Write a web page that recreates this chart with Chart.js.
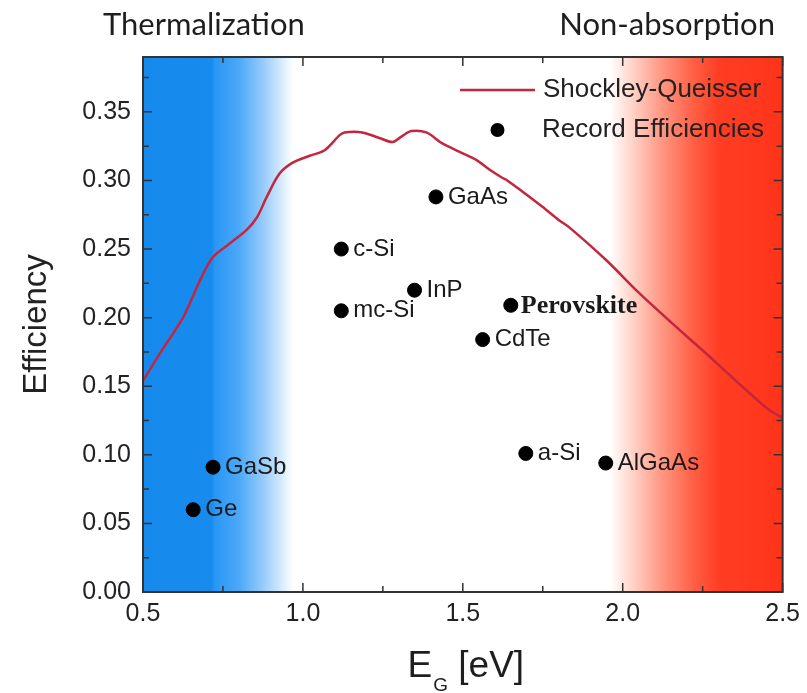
<!DOCTYPE html>
<html>
<head>
<meta charset="utf-8">
<script src="https://cdn.jsdelivr.net/npm/chart.js@4/dist/chart.umd.min.js"></script>
<style>
  html, body { margin: 0; padding: 0; background: #ffffff; }
  #wrap { width: 807px; height: 693px; }
</style>
</head>
<body>
<div id="wrap"><canvas id="c" width="807" height="693"></canvas></div>
<script>
// ---- data ----
const sqEnergy = [0.50, 0.553, 0.625, 0.678, 0.718, 0.771, 0.824, 0.856, 0.887, 0.927, 0.968, 1.021, 1.068, 1.115, 1.13, 1.186, 1.239, 1.280, 1.308, 1.339, 1.386, 1.436, 1.498, 1.542, 1.583, 1.623, 1.639, 1.686, 1.748, 1.801, 1.832, 1.948, 2.051, 2.154, 2.260, 2.363, 2.456, 2.50];
const sqEfficiency = [0.154, 0.174, 0.200, 0.227, 0.244, 0.254, 0.264, 0.273, 0.288, 0.305, 0.313, 0.318, 0.322, 0.333, 0.335, 0.335, 0.331, 0.328, 0.332, 0.336, 0.335, 0.327, 0.320, 0.315, 0.308, 0.302, 0.300, 0.292, 0.281, 0.271, 0.266, 0.242, 0.218, 0.196, 0.174, 0.152, 0.133, 0.127];

const materials = ["Ge", "GaSb", "c-Si", "mc-Si", "InP", "GaAs", "Perovskite", "CdTe", "a-Si", "AlGaAs"];
const recordEnergy = [0.657, 0.719, 1.120, 1.120, 1.349, 1.416, 1.650, 1.562, 1.697, 1.947];
const recordEfficiency = [0.060, 0.091, 0.250, 0.205, 0.220, 0.288, 0.209, 0.184, 0.101, 0.094];

const xTickValues = [0.5, 1.0, 1.5, 2.0, 2.5];
const yTickValues = [0.00, 0.05, 0.10, 0.15, 0.20, 0.25, 0.30, 0.35];
const legendLabels = ["Shockley-Queisser", "Record Efficiencies"];
const regionLabels = ["Thermalization", "Non-absorption"];
const xTitleParts = ["E", "G", " [eV]"];
const yTitle = "Efficiency";

// ---- helpers ----
const sqPoints = sqEnergy.map((e, i) => ({x: e, y: sqEfficiency[i]}));
const recPoints = recordEnergy.map((e, i) => ({x: e, y: recordEfficiency[i]}));

const SANS = "'Liberation Sans', Arial, Helvetica, sans-serif";

const decorPlugin = {
  id: 'decor',
  beforeDatasetsDraw(chart) {
    const {ctx, chartArea: a, scales: {x}} = chart;
    const w = a.right - a.left;
    const f = v => (x.getPixelForValue(v) - a.left) / w;
    const g = ctx.createLinearGradient(a.left, 0, a.right, 0);
    const stops = [
      [0.50, 'rgb(22,137,236)'], [0.715, 'rgb(24,140,238)'], [0.725, 'rgb(42,151,245)'],
      [0.80, 'rgb(75,168,248)'], [0.88, 'rgb(155,205,251)'], [0.97, 'rgb(255,255,255)'],
      [1.96, 'rgb(255,255,255)'], [2.02, 'rgb(255,218,208)'], [2.12, 'rgb(255,152,132)'],
      [2.22, 'rgb(255,96,70)'], [2.30, 'rgb(255,62,36)'], [2.50, 'rgb(255,52,26)']
    ];
    stops.forEach(s => g.addColorStop(Math.min(1, Math.max(0, f(s[0]))), s[1]));
    ctx.save();
    ctx.fillStyle = g;
    ctx.fillRect(a.left, a.top, w, a.bottom - a.top);
    ctx.restore();
  },
  afterDatasetsDraw(chart) {
    const {ctx, chartArea: a, scales: {x, y}} = chart;
    ctx.save();
    // frame
    ctx.strokeStyle = '#333';
    ctx.lineWidth = 2;
    ctx.strokeRect(a.left, a.top, a.right - a.left, a.bottom - a.top);
    // inward ticks
    ctx.lineWidth = 1.5;
    ctx.beginPath();
    for (let i = 0; i <= 8; i++) {
      const v = 0.5 + i * 0.25;
      const px = x.getPixelForValue(v);
      const len = (i % 2 === 0) ? 9 : 6;
      ctx.moveTo(px, a.bottom); ctx.lineTo(px, a.bottom - len);
      ctx.moveTo(px, a.top); ctx.lineTo(px, a.top + len);
    }
    for (let i = 0; i <= 15; i++) {
      const v = i * 0.025;
      const py = y.getPixelForValue(v);
      const len = (i % 2 === 0) ? 9 : 6;
      ctx.moveTo(a.left, py); ctx.lineTo(a.left + len, py);
      ctx.moveTo(a.right, py); ctx.lineTo(a.right - len, py);
    }
    ctx.stroke();

    // point labels
    ctx.fillStyle = '#1a1a1a';
    ctx.textBaseline = 'middle';
    ctx.textAlign = 'left';
    materials.forEach((m, i) => {
      const px = x.getPixelForValue(recordEnergy[i]);
      const py = y.getPixelForValue(recordEfficiency[i]);
      if (m === 'Perovskite') {
        ctx.font = "bold 26px 'Liberation Serif', 'Times New Roman', serif";
        ctx.fillText(m, px + 10, py + 1);
      } else {
        ctx.font = "24px " + SANS;
        ctx.fillText(m, px + 12, py);
      }
    });

    // legend
    const lx0 = a.left + 317, lx1 = a.left + 392;
    const ly0 = a.top + 33, ly1 = a.top + 73;
    ctx.strokeStyle = '#c4263e';
    ctx.lineWidth = 2.5;
    ctx.beginPath(); ctx.moveTo(lx0, ly0); ctx.lineTo(lx1, ly0); ctx.stroke();
    ctx.fillStyle = '#000';
    ctx.beginPath(); ctx.arc((lx0 + lx1) / 2, ly1, 7, 0, Math.PI * 2); ctx.fill();
    ctx.fillStyle = '#222';
    ctx.font = "26px " + SANS;
    ctx.fillText(legendLabels[0], a.left + 400, ly0);
    ctx.fillText(legendLabels[1], a.left + 399, ly1);

    // region labels
    ctx.font = "31px Lato, 'Liberation Sans', sans-serif";
    ctx.textBaseline = 'alphabetic';
    ctx.fillStyle = '#1e1e1e';
    ctx.textAlign = 'left';
    ctx.fillText(regionLabels[0], 103, 35);
    ctx.textAlign = 'right';
    ctx.fillText(regionLabels[1], 775, 35);

    // x title with subscript
    ctx.textAlign = 'left';
    const bigF = "37px " + SANS, subF = "19px " + SANS;
    ctx.font = bigF; const wE = ctx.measureText(xTitleParts[0]).width;
    ctx.font = subF; const wG = ctx.measureText(xTitleParts[1]).width;
    ctx.font = bigF; const wR = ctx.measureText(xTitleParts[2]).width;
    const total = wE + 1 + wG + wR;
    let sx = (a.left + a.right) / 2 + 3 - total / 2;
    const base = 677;
    ctx.font = bigF; ctx.fillText(xTitleParts[0], sx, base); sx += wE + 1;
    ctx.font = subF; ctx.fillText(xTitleParts[1], sx, base + 14); sx += wG;
    ctx.font = bigF; ctx.fillText(xTitleParts[2], sx, base);
    ctx.restore();
  }
};

new Chart(document.getElementById('c'), {
  type: 'scatter',
  data: {
    datasets: [
      {
        label: legendLabels[0],
        data: sqPoints,
        showLine: true,
        borderColor: '#c4263e',
        borderWidth: 2.5,
        pointRadius: 0,
        tension: 0.3,
        order: 2
      },
      {
        label: legendLabels[1],
        data: recPoints,
        backgroundColor: '#000',
        borderColor: '#000',
        pointRadius: 7,
        pointHoverRadius: 7,
        showLine: false,
        order: 1
      }
    ]
  },
  options: {
    responsive: false,
    animation: false,
    layout: { padding: { top: 57, right: 23, bottom: 0, left: 0 } },
    plugins: { legend: { display: false }, tooltip: { enabled: false } },
    scales: {
      x: {
        type: 'linear', min: 0.5, max: 2.5,
        afterFit: s => { s.height = 101; },
        afterBuildTicks: s => { s.ticks = xTickValues.map(v => ({value: v})); },
        grid: { display: false, drawTicks: false },
        border: { display: false },
        ticks: {
          padding: 7, color: '#222',
          font: { size: 25, family: SANS },
          callback: v => Number(v).toFixed(1)
        }
      },
      y: {
        type: 'linear', min: 0, max: 0.39,
        afterFit: s => { s.width = 143; },
        afterBuildTicks: s => { s.ticks = yTickValues.map(v => ({value: v})); },
        grid: { display: false, drawTicks: false },
        border: { display: false },
        ticks: {
          padding: 12, color: '#222',
          font: { size: 25, family: SANS },
          callback: v => Number(v).toFixed(2)
        },
        title: {
          display: true, text: yTitle, color: '#222',
          font: { size: 33, family: SANS },
          padding: { top: 17, bottom: 0 }
        }
      }
    }
  },
  plugins: [decorPlugin]
});
</script>
</body>
</html>
